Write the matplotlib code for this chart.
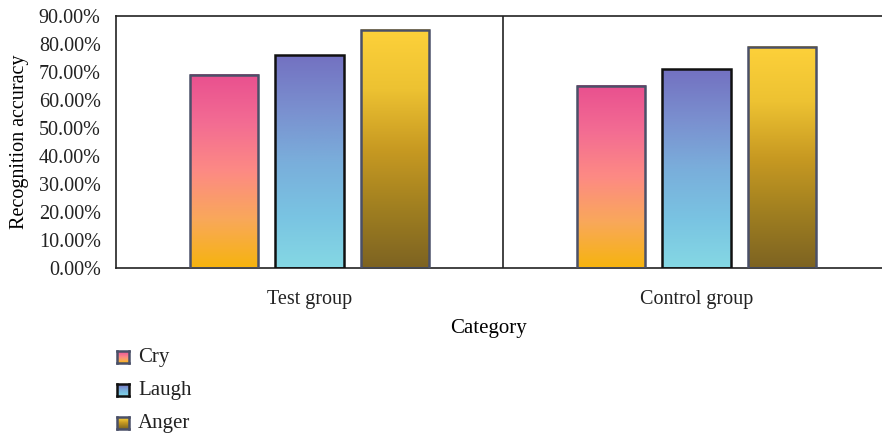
import numpy as np
import matplotlib.pyplot as plt
from matplotlib.colors import LinearSegmentedColormap

# Recognition accuracy per group and emotion
groups = ["Test group", "Control group"]
emotions = ["Cry", "Laugh", "Anger"]
cry = [0.69, 0.65]
laugh = [0.76, 0.71]
anger = [0.85, 0.79]
y_ticks = [0.0, 0.1, 0.2, 0.3, 0.4, 0.5, 0.6, 0.7, 0.8, 0.9]

# Vertical gradients, listed bottom -> top
gradients = {
    "Cry": ["#f6b40e", "#f9a85a", "#fd8a84", "#f36c93", "#e9508f"],
    "Laugh": ["#85d8e4", "#79c3e2", "#7aaedb", "#7a8fcf", "#7371c1"],
    "Anger": ["#7d6322", "#a07f20", "#c89a22", "#edc232", "#fdd13a"],
}
edges = {"Cry": "#4a5068", "Laugh": "#111111", "Anger": "#4a5068"}

plt.rcParams["font.family"] = ["Liberation Serif", "DejaVu Serif"]

fig = plt.figure(figsize=(8.82, 4.36), dpi=100)
ax = fig.add_axes([116 / 882, 1 - 268 / 436, 774 / 882, 252 / 436])

x = np.arange(len(groups))
width = 0.176
offset = 0.222
ramp = np.linspace(0, 1, 256).reshape(-1, 1)

for k, (name, vals) in enumerate(zip(emotions, [cry, laugh, anger])):
    cmap = LinearSegmentedColormap.from_list(name, gradients[name])
    for xi, v in zip(x + (k - 1) * offset, vals):
        x0, x1 = xi - width / 2, xi + width / 2
        ax.imshow(ramp, cmap=cmap, origin="lower", aspect="auto",
                  extent=[x0, x1, 0, v], zorder=2)
        ax.bar(xi, v, width=width, facecolor="none",
               edgecolor=edges[name], linewidth=1.8, zorder=3)

ax.set_xlim(-0.5, 1.5)
ax.set_ylim(0, 0.9)
ax.set_yticks(y_ticks)
ax.set_yticklabels([f"{t * 100:.2f}%" for t in y_ticks])
ax.set_xticks(x)
ax.set_xticklabels(groups)
ax.tick_params(length=0, labelsize=14.5, colors="#222222")
ax.tick_params(axis="x", pad=16)
ax.tick_params(axis="y", pad=11)

# group separator and frame
ax.axvline(0.5, color="#222222", linewidth=1.2, zorder=1)
for side in ["left", "top", "bottom"]:
    ax.spines[side].set_color("#222222")
    ax.spines[side].set_linewidth(1.2)
ax.spines["right"].set_visible(False)

ax.set_ylabel("Recognition accuracy", fontsize=14.5, labelpad=7)
fig.text(489 / 882, 1 - 328 / 436, "Category", ha="center", va="center",
         fontsize=15)

# legend with gradient swatches
for i, name in enumerate(emotions):
    yc = 357 + i * 33
    sw = fig.add_axes([117 / 882, 1 - (yc + 6) / 436, 12 / 882, 12 / 436])
    cmap = LinearSegmentedColormap.from_list(name, gradients[name])
    sw.imshow(ramp, cmap=cmap, origin="lower", aspect="auto")
    for s in sw.spines.values():
        s.set_color(edges[name])
        s.set_linewidth(1.8)
    sw.set_xticks([])
    sw.set_yticks([])
    fig.text(138 / 882, 1 - yc / 436, name, ha="left", va="center",
             fontsize=15, color="#222222")

fig.savefig("out.png", dpi=100)
